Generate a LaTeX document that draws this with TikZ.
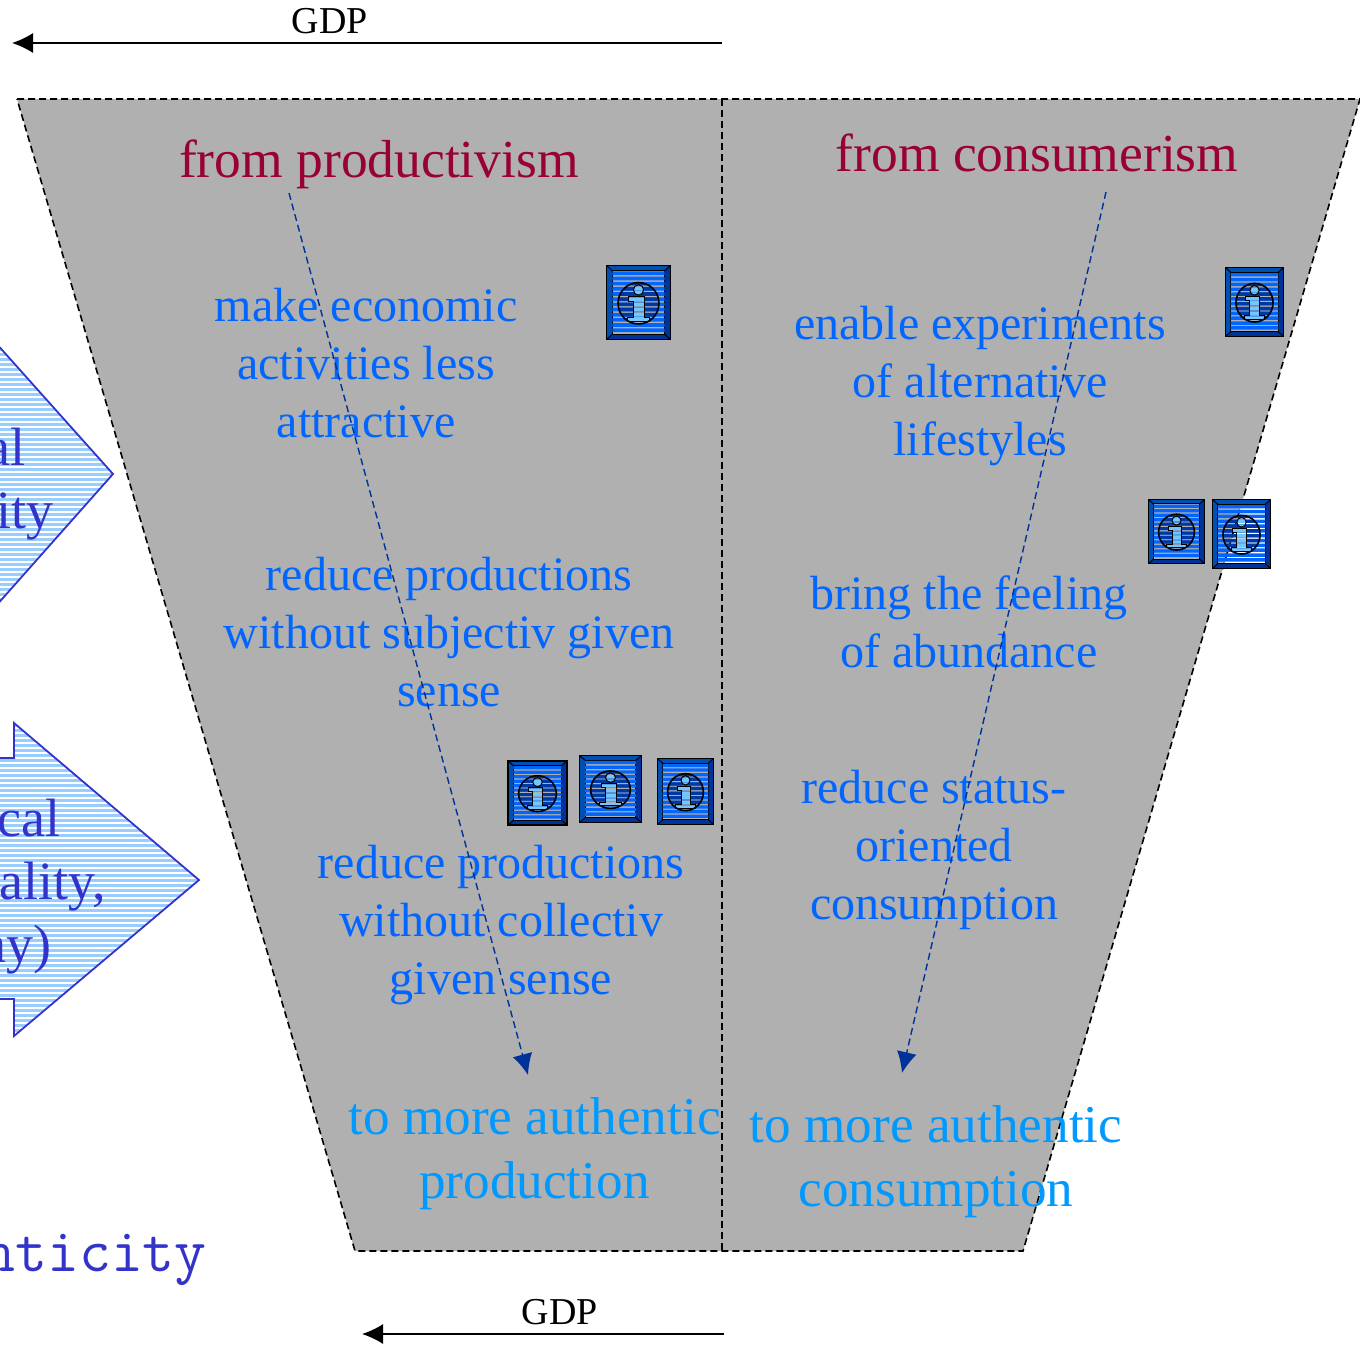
\documentclass[tikz,border=0pt]{standalone}
\usepackage{fontspec}
\setmainfont{Liberation Serif}
\usetikzlibrary{arrows.meta}

\definecolor{panelgray}{HTML}{B0B0B0}
\definecolor{headred}{HTML}{990033}
\definecolor{itemblue}{HTML}{0066FF}
\definecolor{goalblue}{HTML}{0099FF}
\definecolor{flowblue}{HTML}{003399}
\definecolor{sideblue}{HTML}{3333CC}
\definecolor{hatchblue}{HTML}{99CCFF}

\tikzset{
  headtext/.style={inner sep=0pt,text=headred,font=\fontsize{53.5}{60}\selectfont},
  itemtext/.style={inner sep=0pt,align=center,text=itemblue,font=\fontsize{48}{58}\selectfont},
  goaltext/.style={inner sep=0pt,align=center,text=goalblue,font=\fontsize{53.2}{64}\selectfont},
  sidetext/.style={inner sep=0pt,anchor=base east,text=sideblue,font=\fontsize{54}{66}\selectfont},
  gdptext/.style={inner sep=0pt,font=\fontsize{38}{40}\selectfont},
  gdparrow/.style={line width=1.4pt,-{Latex[length=21pt,width=20pt]}},
  flowarrow/.style={flowblue,line width=1.4pt,dash pattern=on 7pt off 4pt,-{Latex[length=21pt,width=20pt]}},
  panelline/.style={line width=1.6pt,dash pattern=on 7pt off 4pt},
  sideline/.style={sideblue,line width=1.8pt,line join=miter},
}

% icon: left, top, width, height
\newcommand{\infoicon}[4]{
  \begin{scope}[shift={(#1,#2)},x=#3pt,y=-#4pt]
    % bevels
    \fill[blue!55!cyan!70!black] (0,0) -- (1,0) -- (.91,.07) -- (.09,.07) -- (.09,.93) -- (0,1) -- cycle;
    \fill[flowblue] (1,1) -- (0,1) -- (.09,.93) -- (.91,.93) -- (.91,.07) -- (1,0) -- cycle;
    \draw[line width=1pt] (0,0) -- (.09,.07) (1,0) -- (.91,.07) (0,1) -- (.09,.93) (1,1) -- (.91,.93);
    \draw[line width=1pt] (.09,.07) rectangle (.91,.93);
    % striped face
    \begin{scope}
      \clip \foreach \k in {.08,.15,...,.9}{(.09,\k) rectangle (.91,\k+.05)};
      \fill[itemblue] (0,0) rectangle (1,1);
      \fill[flowblue!90!itemblue] (.5,.51) ellipse (.32 and .28);
      \fill[blue!40!cyan!55!white] (.5,.33) ellipse (.08 and .07);
      \fill[blue!40!cyan!55!white] (.35,.42) -- (.59,.42) -- (.59,.7) -- (.67,.7) -- (.67,.75) -- (.33,.75) -- (.33,.7) -- (.42,.7) -- (.42,.48) -- (.35,.48) -- cycle;
    \end{scope}
    \draw[line width=1.6pt] (.5,.51) ellipse (.32 and .28);
    \draw[line width=1pt] (.5,.33) ellipse (.08 and .07);
    \draw[line width=1pt] (.35,.42) -- (.59,.42) -- (.59,.7) -- (.67,.7) -- (.67,.75) -- (.33,.75) -- (.33,.7) -- (.42,.7) -- (.42,.48) -- (.35,.48) -- cycle;
    \draw[line width=1.8pt] (0,0) rectangle (1,1);
  \end{scope}
}

\begin{document}
\begin{tikzpicture}[x=1pt,y=-1pt]
\path[use as bounding box,clip] (0,0) rectangle (1360,1350);

% Define the corners of the panel
\coordinate (P1) at (17,99);
\coordinate (P2) at (722,99);
\coordinate (P3) at (1360,99);
\coordinate (P4) at (1023,1251);
\coordinate (P5) at (722,1251);
\coordinate (P6) at (355,1251);

% Draw the panel
\fill[panelgray] (P1) -- (P3) -- (P4) -- (P6) -- cycle;
\draw[panelline] (P1) -- (P3) -- (P4) -- (P6) -- cycle;
\draw[panelline] (P2) -- (P5);

% Draw the side arrows
\begin{scope}
  \clip (-5,342) -- (113,474) -- (-5,607) -- cycle;
  \fill[hatchblue] (-5,340) rectangle (120,610);
  \foreach \k in {342,347,...,607}
    \draw[white,line width=1.4pt] (-5,\k) -- (120,\k);
\end{scope}
\draw[sideline] (-5,342) -- (113,474) -- (-5,607);
\begin{scope}
  \clip (-5,758) -- (14,758) -- (14,723) -- (199,880) -- (14,1036) -- (14,999) -- (-5,999) -- cycle;
  \fill[hatchblue] (-5,720) rectangle (205,1040);
  \foreach \k in {723,728,...,1038}
    \draw[white,line width=1.4pt] (-5,\k) -- (205,\k);
\end{scope}
\draw[sideline] (-5,758) -- (14,758) -- (14,723) -- (199,880) -- (14,1036) -- (14,999) -- (-5,999);

% Draw the side texts
\node[sidetext] (sideA1) at (26,465) {al};
\node[sidetext] (sideA2) at (54,528) {ity};
\node[sidetext] (sideB1) at (61,836) {cal};
\node[sidetext] (sideB2) at (106,899) {ality,};
\node[sidetext] (sideB3) at (52,962) {ny)};
\node[inner sep=0pt,anchor=base east,text=sideblue,font=\ttfamily\fontsize{62}{64}\selectfont] (sideC) at (207,1271) {nticity};

% Draw the headings
\node[headtext] (headL) at (379,164) {from productivism};
\node[headtext] (headR) at (1037,153) {from consumerism};

% Draw the items
\node[itemtext] (itemL1) at (366,363) {make economic\\activities less\\attractive};
\node[itemtext] (itemL2) at (449,632) {reduce productions\\without subjectiv given\\sense};
\node[itemtext] (itemL3) at (501,925) {reduce productions\\without collectiv\\given sense};
\node[itemtext] (itemR1) at (980,386) {enable experiments\\of alternative\\lifestyles};
\node[itemtext] (itemR2) at (969,622) {bring the feeling\\of abundance};
\node[itemtext] (itemR3) at (934,850) {reduce status-\\oriented\\consumption};

% Draw the goals
\node[goaltext] (goalL) at (534.5,1154) {to more authentic\\production};
\node[goaltext] (goalR) at (936,1162) {to more authentic\\consumption};

% Draw the flow arrows
\coordinate (flowLs) at (289,193);
\coordinate (flowLe) at (528,1075);
\coordinate (flowRs) at (1106,192);
\coordinate (flowRe) at (902,1073);
\draw[flowarrow] (flowLs) -- (flowLe);
\draw[flowarrow] (flowRs) -- (flowRe);

% Draw the icons
\infoicon{606.5}{265.5}{64}{74}
\infoicon{508}{761}{59}{64}
\infoicon{579.5}{755.5}{62}{67}
\infoicon{657.5}{758.5}{56}{66}
\infoicon{1225.5}{267.5}{58}{69}
\infoicon{1148.5}{499.5}{56}{64}
\infoicon{1212.5}{499.5}{58}{69}

% Draw the GDP arrows
\node[gdptext] (gdpT) at (330,21) {GDP};
\node[gdptext] (gdpB) at (560,1312) {GDP};
\coordinate (gdpTs) at (722,43);
\coordinate (gdpTe) at (12,43);
\coordinate (gdpBs) at (724,1334);
\coordinate (gdpBe) at (362,1334);
\draw[gdparrow] (gdpTs) -- (gdpTe);
\draw[gdparrow] (gdpBs) -- (gdpBe);
\end{tikzpicture}
\end{document}
